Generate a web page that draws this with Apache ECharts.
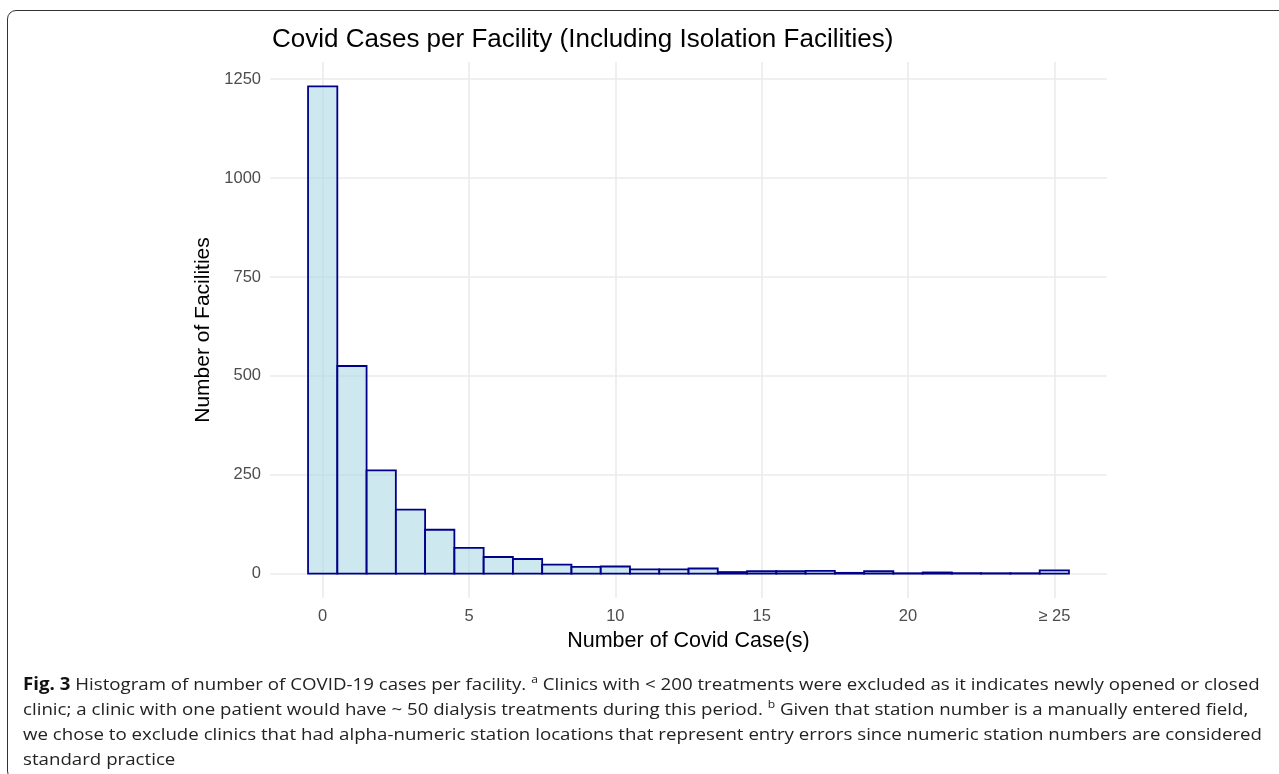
<!DOCTYPE html>
<html>
<head>
<meta charset="utf-8">
<script src="https://cdn.jsdelivr.net/npm/echarts@6/dist/echarts.min.js"></script>
<style>
  html, body { margin: 0; padding: 0; background: #fff; }
  body { width: 1279px; height: 774px; position: relative; overflow: hidden; }
  .frame {
    position: absolute; left: 7px; top: 10px; right: -20px; bottom: -6px;
    border: 1.5px solid #333; border-radius: 9px;
  }
  #chart { position: absolute; left: 0; top: 0; width: 1279px; height: 774px; }
  .caption {
    position: absolute; left: 23px; top: 671px;
    font-family: "Open Sans", sans-serif; font-size: 17px; line-height: 25px;
    color: #222;
  }
  .caption div { white-space: nowrap; transform-origin: 0 0; }
  .caption b { color: #111; }
  .caption sup { font-size: 11px; line-height: 0; }
</style>
</head>
<body>
<div class="frame"></div>
<div id="chart"></div>
<div class="caption">
  <div class="ln"><b>Fig. 3</b> Histogram of number of COVID-19 cases per facility. <sup>a</sup> Clinics with &lt; 200 treatments were excluded as it indicates newly opened or closed</div>
  <div class="ln">clinic; a clinic with one patient would have ~ 50 dialysis treatments during this period. <sup>b</sup> Given that station number is a manually entered field,</div>
  <div class="ln">we chose to exclude clinics that had alpha-numeric station locations that represent entry errors since numeric station numbers are considered</div>
  <div class="ln">standard practice</div>
</div>
<script>
// bins: number of covid cases (25 = ">= 25")
const caseBins = [0, 1, 2, 3, 4, 5, 6, 7, 8, 9, 10, 11, 12, 13, 14, 15, 16, 17, 18, 19, 20, 21, 22, 23, 24, 25]
const facilityCounts = [1232, 525, 261, 162, 111, 65, 42, 37, 23, 17, 18, 11, 11, 13, 4, 6, 6, 7, 2, 6, 1, 3, 1, 1, 1, 8]
const xTicks = [0, 5, 10, 15, 20, 25]
const yTicks = [0, 250, 500, 750, 1000, 1250]

// caption: squeeze lines to the width used in the paper
const lines = document.querySelectorAll('.caption .ln')
const scale = 1239 / lines[0].getBoundingClientRect().width
lines.forEach(el => { el.style.transform = 'scaleX(' + scale + ')' })

const chart = echarts.init(document.getElementById('chart'))
const textFont = '"Liberation Sans", Arial, sans-serif'

const option = {
  animation: false,
  title: {
    text: 'Covid Cases per Facility (Including Isolation Facilities)',
    left: 267,
    top: 22,
    textStyle: { fontFamily: textFont, fontSize: 26, fontWeight: 'normal', color: '#000' }
  },
  grid: { left: 270, right: 172, top: 62, bottom: 176 },
  xAxis: {
    type: 'value',
    min: -1.8,
    max: 26.8,
    name: 'Number of Covid Case(s)',
    nameLocation: 'middle',
    nameGap: 32,
    nameTextStyle: { fontFamily: textFont, fontSize: 21.5, color: '#000' },
    axisLine: { show: false },
    axisTick: { show: false, customValues: xTicks },
    axisLabel: {
      customValues: xTicks,
      margin: 10,
      fontFamily: textFont, fontSize: 16.5, color: '#4d4d4d',
      formatter: v => (v === 25 ? '\u2265 25' : String(v))
    },
    splitLine: { show: true, lineStyle: { color: '#ebebeb', width: 1.6 } }
  },
  yAxis: {
    type: 'value',
    min: -61.6,
    max: 1293.6,
    name: 'Number of Facilities',
    nameLocation: 'middle',
    nameGap: 52,
    nameTextStyle: { fontFamily: textFont, fontSize: 21, color: '#000' },
    axisLine: { show: false },
    axisTick: { show: false, customValues: yTicks },
    axisLabel: {
      customValues: yTicks,
      margin: 9,
      fontFamily: textFont, fontSize: 16.5, color: '#4d4d4d',
      formatter: v => String(v)
    },
    splitLine: { show: true, lineStyle: { color: '#ebebeb', width: 1.6 } }
  },
  series: [
    {
      type: 'custom',
      data: caseBins.map((x, i) => [x, facilityCounts[i]]),
      renderItem: (params, api) => {
        const x = api.value(0)
        const p0 = api.coord([x - 0.5, 0])
        const p1 = api.coord([x + 0.5, api.value(1)])
        return {
          type: 'rect',
          shape: { x: p0[0], y: p1[1], width: p1[0] - p0[0], height: p0[1] - p1[1] },
          style: { fill: 'rgba(173, 216, 230, 0.6)', stroke: '#00008b', lineWidth: 1.8 }
        }
      }
    }
  ]
}

chart.setOption(option)
</script>
</body>
</html>
